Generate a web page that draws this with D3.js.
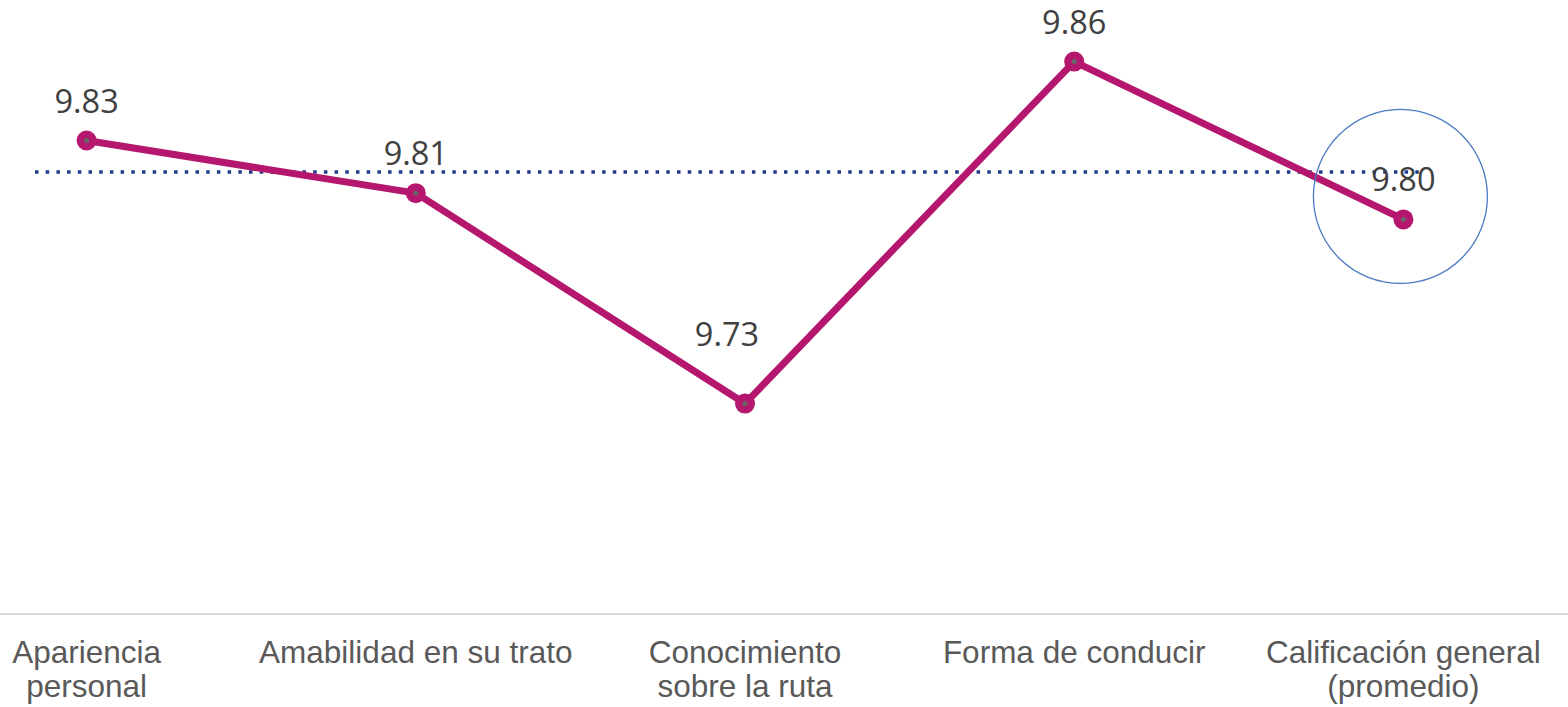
<!DOCTYPE html>
<html>
<head>
<meta charset="utf-8">
<script src="https://cdn.jsdelivr.net/npm/d3@7/dist/d3.min.js"></script>
<style>
  html, body { margin: 0; padding: 0; background: #ffffff; }
  svg { display: block; }
</style>
</head>
<body>
<svg id="chart" width="1568" height="707"></svg>
<script>
// ---- data ----
const categories = [
  "Apariencia\npersonal",
  "Amabilidad en su trato",
  "Conocimiento\nsobre la ruta",
  "Forma de conducir",
  "Calificación general\n(promedio)"
];
const scores = [9.83, 9.81, 9.73, 9.86, 9.80];
const valueLabels = ["9.83", "9.81", "9.73", "9.86", "9.80"];
const referenceLine = [9.818];
const highlighted = ["Calificación general\n(promedio)"];

// ---- layout ----
const W = 1568, H = 707;
const svg = d3.select("#chart");

const x = d3.scaleBand().domain(categories).range([-78, 1568]).padding(0);
const cx = c => x(c) + x.bandwidth() / 2;
const y = d3.scaleLinear().domain([9.65, 9.88]).range([614, 9]);

const data = categories.map((c, i) => ({ cat: c, v: scores[i], label: valueLabels[i], i }));

// axis baseline
svg.append("line")
  .attr("x1", 0).attr("x2", W)
  .attr("y1", y(9.65)).attr("y2", y(9.65))
  .attr("stroke", "#d9d9d9").attr("stroke-width", 2);

// category labels
const catG = svg.append("g");
data.forEach(d => {
  const lines = d.cat.split("\n");
  const t = catG.append("text")
    .attr("x", cx(d.cat))
    .attr("y", 663)
    .attr("text-anchor", "middle")
    .attr("font-family", "'Liberation Sans', Arial, sans-serif")
    .attr("font-size", 31.5)
    .attr("fill", "#595959");
  lines.forEach((ln, k) => {
    t.append("tspan").attr("x", cx(d.cat)).attr("dy", k === 0 ? 0 : 33.5).text(ln);
  });
});

// reference dotted line
svg.append("line")
  .attr("x1", 35).attr("x2", 1426)
  .attr("y1", y(referenceLine[0])).attr("y2", y(referenceLine[0]))
  .attr("stroke", "#1f3a8a").attr("stroke-width", 3.5)
  .attr("stroke-dasharray", "3.5 7.2");

// series line
const line = d3.line().x(d => cx(d.cat)).y(d => y(d.v));
svg.append("path")
  .datum(data)
  .attr("d", line)
  .attr("fill", "none")
  .attr("stroke", "#b5176e")
  .attr("stroke-width", 7)
  .attr("stroke-linejoin", "round");

// markers
svg.selectAll(".mk").data(data).enter().append("circle")
  .attr("cx", d => cx(d.cat)).attr("cy", d => y(d.v))
  .attr("r", 10).attr("fill", "#b5176e");
svg.selectAll(".mkc").data(data).enter().append("circle")
  .attr("cx", d => cx(d.cat)).attr("cy", d => y(d.v))
  .attr("r", 2.5).attr("fill", "#666666");

// value labels
const minV = d3.min(scores);
svg.selectAll(".vl").data(data).enter().append("text")
  .attr("x", d => cx(d.cat) + (d.v === minV ? -18 : 0))
  .attr("y", d => y(d.v) - (d.v === minV ? 58 : 28))
  .attr("text-anchor", "middle")
  .attr("font-family", "'Open Sans', 'Noto Sans', sans-serif")
  .attr("font-size", 32.5)
  .attr("fill", "#404040")
  .text(d => d.label);

// highlight circle
data.filter(d => highlighted.includes(d.cat)).forEach(d => {
  svg.append("circle")
    .attr("cx", cx(d.cat) - 3)
    .attr("cy", y(d.v) - 23)
    .attr("r", 87)
    .attr("fill", "none")
    .attr("stroke", "#4a7bc4")
    .attr("stroke-width", 1.3);
});
</script>
</body>
</html>
